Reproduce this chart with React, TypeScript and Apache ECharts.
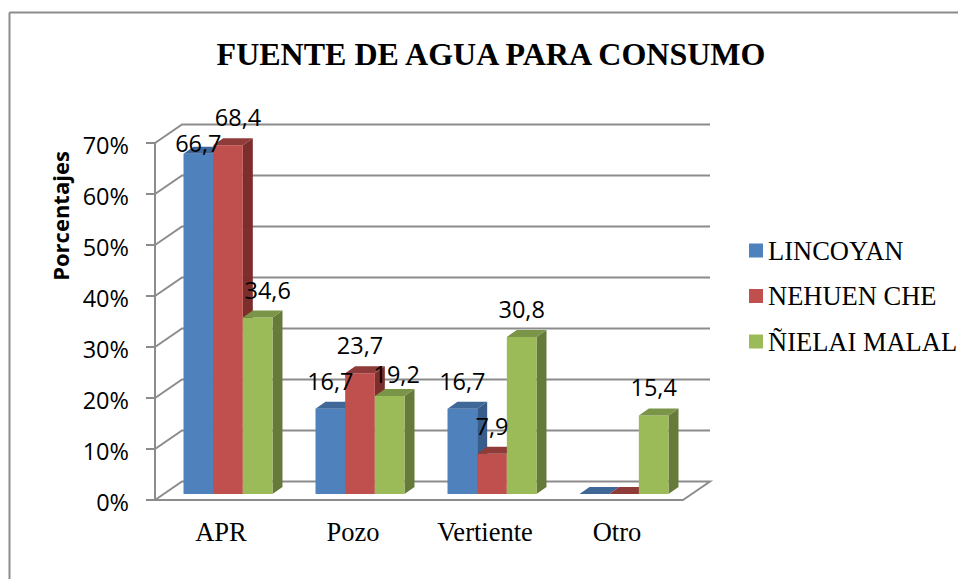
import React, { useEffect, useRef } from "react";
import * as echarts from "echarts";

const titleText = "FUENTE DE AGUA PARA CONSUMO";
const yAxisTitle = "Porcentajes";
const categories = ["APR", "Pozo", "Vertiente", "Otro"];
const lincoyan = [66.7, 16.7, 16.7, 0];
const nehuenChe = [68.4, 23.7, 7.9, 0];
const nielaiMalal = [34.6, 19.2, 30.8, 15.4];
const yTicks = [0, 10, 20, 30, 40, 50, 60, 70];

const seriesNames = ["LINCOYAN", "NEHUEN CHE", "ÑIELAI MALAL"];
const seriesValues = [lincoyan, nehuenChe, nielaiMalal];
const faceColors = ["#4F81BD", "#C0504D", "#9BBB59"];
const topColors = ["#3F6797", "#8F3B39", "#7A9448"];
const sideColors = ["#385D8A", "#7B2E2C", "#667A3A"];

// label nudges, [series][category] => [dx, dy], relative to the default spot above the bar
const labelNudges: Record<string, [number, number]> = {
  "0-0": [0, 17],
  "1-0": [10, 0],
  "2-0": [10, 0],
  "2-1": [7, 6],
};

const SANS = "'Open Sans', sans-serif";
const SERIF = "'Liberation Serif', serif";
const GRID_COLOR = "#8C8C8C";
const WALL_DX = 27;
const WALL_DY = -18.5;
const BAR_DX = 7;
const BAR_DY = -6;
const DEPTH_DX = 10;
const DEPTH_DY = -7;
const BAR_RATIO = 0.2247;
const LABEL_LIFT = 28;

function barX(api: any, seriesIndex: number, cat: number) {
  const cw = api.size([1, 0])[0];
  const bw = cw * BAR_RATIO;
  const cx = api.coord([cat, 0])[0];
  return { bw, left: cx + BAR_DX + (seriesIndex - 1.5) * bw };
}

function makeBarSeries(seriesIndex: number) {
  return {
    type: "custom",
    name: seriesNames[seriesIndex],
    coordinateSystem: "cartesian2d",
    itemStyle: { color: faceColors[seriesIndex] },
    z: 3 + seriesIndex,
    data: seriesValues[seriesIndex].map((v, i) => [i, v]),
    encode: { x: 0, y: 1 },
    renderItem: (_p: any, api: any) => {
      const cat = api.value(0);
      const val = api.value(1);
      const { bw, left } = barX(api, seriesIndex, cat);
      const right = left + bw;
      const yTop = api.coord([cat, val])[1] + BAR_DY;
      const yBase = api.coord([cat, 0])[1] + BAR_DY;
      const children: any[] = [];
      if (val > 0) {
        children.push({
          type: "polygon",
          shape: { points: [[right, yTop], [right + DEPTH_DX, yTop + DEPTH_DY], [right + DEPTH_DX, yBase + DEPTH_DY], [right, yBase]] },
          style: { fill: sideColors[seriesIndex] },
        });
        children.push({
          type: "rect",
          shape: { x: left, y: yTop, width: bw, height: yBase - yTop },
          style: { fill: faceColors[seriesIndex] },
        });
      }
      children.push({
        type: "polygon",
        shape: { points: [[left, yTop], [left + DEPTH_DX, yTop + DEPTH_DY], [right + DEPTH_DX, yTop + DEPTH_DY], [right, yTop]] },
        style: { fill: topColors[seriesIndex] },
      });
      return { type: "group", children };
    },
  };
}

const labelRows: number[][] = [];
seriesValues.forEach((vals, s) => vals.forEach((v, c) => { if (v > 0) labelRows.push([c, v, s]); }));

const wallSeries = {
  type: "custom",
  coordinateSystem: "cartesian2d",
  z: 1,
  silent: true,
  data: yTicks.map((t) => [0, t]),
  encode: { x: 0, y: 1 },
  renderItem: (params: any, api: any) => {
    const val = api.value(1);
    const y = api.coord([0, val])[1];
    const x0 = params.coordSys.x;
    const x1 = x0 + params.coordSys.width;
    const pts: number[][] = val === 0
      ? [[x0, y], [x0 + WALL_DX, y + WALL_DY], [x1 + WALL_DX, y + WALL_DY], [x1, y]]
      : [[x0, y], [x0 + WALL_DX, y + WALL_DY], [x1 + WALL_DX, y + WALL_DY]];
    return { type: "polyline", shape: { points: pts }, style: { stroke: GRID_COLOR, lineWidth: 2, fill: "none" } };
  },
};

const labelSeries = {
  type: "custom",
  coordinateSystem: "cartesian2d",
  z: 10,
  silent: true,
  data: labelRows,
  encode: { x: 0, y: 1 },
  renderItem: (_p: any, api: any) => {
    const cat = api.value(0);
    const val = api.value(1);
    const s = api.value(2);
    const { bw, left } = barX(api, s, cat);
    const nudge = labelNudges[`${s}-${cat}`] || [0, 0];
    const y = api.coord([cat, val])[1] + BAR_DY - LABEL_LIFT + nudge[1];
    return {
      type: "text",
      x: left + bw / 2 + nudge[0],
      y,
      style: {
        text: String(val).replace(".", ","),
        fill: "#000",
        font: `23.5px ${SANS}`,
        align: "center",
        verticalAlign: "middle",
      },
    };
  },
};

export default function App() {
  const ref = useRef<HTMLDivElement>(null);
  useEffect(() => {
    const chart = echarts.init(ref.current!, undefined, { renderer: "svg" });
    chart.setOption({
      animation: false,
      backgroundColor: "#fff",
      title: {
        text: titleText,
        left: 486,
        top: 33,
        textAlign: "center",
        textStyle: { fontFamily: SERIF, fontWeight: "bold", fontSize: 32, color: "#000" },
      },
      legend: {
        data: seriesNames,
        orient: "vertical",
        left: 749,
        top: 237,
        padding: 0,
        itemWidth: 14,
        itemHeight: 14,
        itemGap: 18.5,
        icon: "rect",
        textStyle: { fontFamily: SERIF, fontSize: 26.5, color: "#000" },
      },
      grid: { left: 155, right: 275, top: 143, bottom: 79 },
      xAxis: {
        type: "category",
        data: categories,
        axisLine: { lineStyle: { color: GRID_COLOR, width: 2 } },
        axisTick: { length: 7, lineStyle: { color: GRID_COLOR, width: 2 } },
        axisLabel: { fontFamily: SERIF, fontSize: 26.5, color: "#000", margin: 18 },
      },
      yAxis: {
        type: "value",
        min: 0,
        max: 70,
        interval: 10,
        splitLine: { show: false },
        axisLine: { show: true, lineStyle: { color: GRID_COLOR, width: 2 } },
        axisTick: { show: true, length: 9, lineStyle: { color: GRID_COLOR, width: 2 } },
        axisLabel: {
          formatter: "{t|{value}%}",
          margin: 26,
          rich: {
            t: {
              fontFamily: SANS,
              fontSize: 23.5,
              color: "#000",
              padding: [4, 0, 0, 0],
            },
          },
        },
      },
      graphic: [
        { type: "line", shape: { x1: 9.5, y1: 12.5, x2: 958, y2: 12.5 }, style: { stroke: "#8C8C8C", lineWidth: 2 } },
        { type: "line", shape: { x1: 9.5, y1: 12.5, x2: 9.5, y2: 579 }, style: { stroke: "#8C8C8C", lineWidth: 2 } },
        {
          type: "text",
          x: 60,
          y: 216,
          rotation: Math.PI / 2,
          style: {
            text: yAxisTitle,
            font: `bold 22px ${SANS}`,
            fill: "#000",
            align: "center",
            verticalAlign: "middle",
          },
        },
      ],
      series: [wallSeries, makeBarSeries(0), makeBarSeries(1), makeBarSeries(2), labelSeries],
    });
    return () => chart.dispose();
  }, []);
  return <div ref={ref} style={{ position: "fixed", left: 0, top: 0, width: 958, height: 579 }} />;
}
